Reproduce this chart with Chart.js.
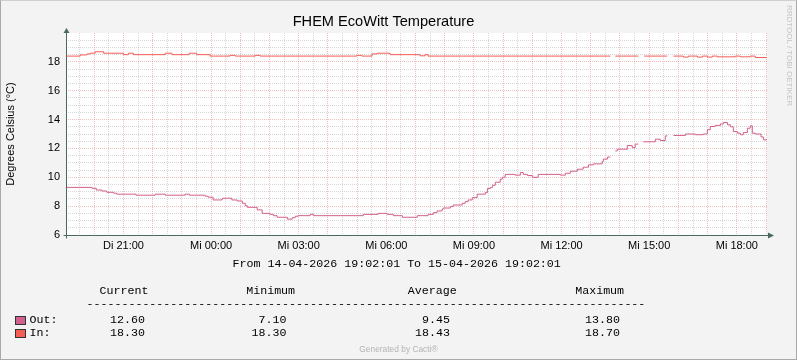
<!DOCTYPE html>
<html>
<head>
<meta charset="utf-8">
<title>FHEM EcoWitt Temperature</title>
<script src="https://cdn.jsdelivr.net/npm/chart.js@4.4.1/dist/chart.umd.min.js"></script>
<style>
  html, body { margin: 0; padding: 0; background: #f3f3f3; }
  #wrap { position: relative; width: 797px; height: 360px; background: #f3f3f3; overflow: hidden; }
  #chart { position: absolute; left: 0; top: 0; }
  #frame { position: absolute; left: 0; top: 0; right: 0; bottom: 0; border: 1px solid #a9a9a9; border-top-color: #d0d0d0; pointer-events: none; }
  .mono { position: absolute; font-family: 'Courier New', 'Liberation Mono', monospace; font-size: 11.65px; line-height: 14px; white-space: pre; color: #000; }
  .num { text-align: right; }
  .box { position: absolute; width: 11px; height: 9px; box-sizing: border-box; border: 1px solid #333; }
  #credit { position: absolute; left: 0; width: 797px; top: 344px; text-align: center; font: 8.4px/10px 'Liberation Sans', Arial, sans-serif; color: #b4b4b4; }
  #mark { position: absolute; left: 784px; top: 5px; writing-mode: vertical-rl; font: 8px/10px 'Liberation Sans', Arial, sans-serif; color: #c4c4c4; }
</style>
</head>
<body>
<div id="wrap">
  <canvas id="chart" width="797" height="360"></canvas>
  <div id="legend"></div>
  <div id="credit">Generated by Cacti®</div>
  <div id="mark">RRDTOOL / TOBI OETIKER</div>
  <div id="frame"></div>
</div>
<script>
// time axis in hours since Di 00:00
const startHour = 19 + 2 / 60;
const endHour = startHour + 24;

const xLabelHours = [21, 24, 27, 30, 33, 36, 39, 42];
const xLabels = ['Di 21:00', 'Mi 00:00', 'Mi 03:00', 'Mi 06:00', 'Mi 09:00', 'Mi 12:00', 'Mi 15:00', 'Mi 18:00'];
const yLabelValues = [6, 8, 10, 12, 14, 16, 18];

// each value holds from its time until the next time, null = no data
const outTimes = [19.03, 19.92, 20.07, 20.26, 20.43, 20.66, 20.77, 21.43, 22.09, 22.43, 23.11, 23.26, 23.80, 23.90,
  24.07, 24.37, 24.41, 24.71, 24.89, 25.07, 25.17, 25.24, 25.58, 25.75, 26.02, 26.13, 26.26, 26.61, 26.78, 26.88,
  26.98, 27.39, 27.50, 29.21, 29.72, 30.03, 30.24, 30.55, 31.06, 31.43, 31.61, 31.74, 31.91, 31.95, 32.19, 32.29,
  32.60, 32.70, 32.80, 32.94, 33.11, 33.39, 33.46, 33.56, 33.63, 33.73, 33.90, 33.97, 34.07, 34.41, 34.59, 34.69,
  34.83, 35.00, 35.20, 35.96, 36.13, 36.30, 36.54, 36.74, 36.92, 37.09, 37.39, 37.43, 37.57, 37.67, 37.84, 37.91,
  38.25, 38.42, 38.52, 38.63, 38.80, 39.21, 39.38, 39.55, 39.62, 39.83, 40.24, 40.58, 40.85, 40.99, 41.09, 41.26,
  41.44, 41.54, 41.68, 41.78, 41.88, 42.02, 42.12, 42.22, 42.36, 42.46, 42.53, 42.63, 42.83, 42.91];
const outValues = [9.30, 9.24, 9.12, 9.05, 8.96, 8.90, 8.83, 8.76, 8.83, 8.76, 8.83, 8.76, 8.69, 8.62,
  8.43, 8.50, 8.55, 8.43, 8.36, 8.20, 8.03, 7.92, 7.74, 7.50, 7.43, 7.34, 7.23, 7.10, 7.20, 7.30,
  7.34, 7.43, 7.34, 7.43, 7.50, 7.43, 7.34, 7.23, 7.34, 7.43, 7.55, 7.67, 7.80, 7.87, 7.97, 8.08,
  8.20, 8.31, 8.43, 8.59, 8.83, 8.94, 9.22, 9.29, 9.45, 9.66, 9.87, 10.00, 10.20, 10.15, 10.33, 10.20,
  10.12, 10.00, 10.20, 10.15, 10.28, 10.42, 10.56, 10.70, 10.86, 10.93, 11.09, 11.26, 11.40, null, 11.83, 11.95,
  12.20, 12.06, 12.30, null, 12.46, 12.64, 12.55, 12.87, null, 12.90, 13.00, 12.95, 13.00, 13.30, 13.52, 13.60,
  13.70, 13.80, 13.64, 13.50, 13.17, 13.06, 12.95, 13.10, 13.40, 13.57, 13.06, 13.00, 12.80, 12.60];

const inTimes = [19.03, 19.52, 19.75, 19.86, 20.03, 20.32, 21.00, 21.17, 21.34, 22.43, 22.66, 23.25, 23.51, 23.97,
  24.65, 24.83, 25.51, 25.68, 28.99, 29.16, 29.51, 29.68, 30.13, 31.16, 31.33, 31.43, 37.67, 37.84, 38.63, 38.83,
  39.62, 39.83, 40.17, 40.34, 40.65, 40.82, 40.99, 41.16, 41.33, 41.95, 42.12, 42.46, 42.63];
const inValues = [18.40, 18.48, 18.55, 18.60, 18.70, 18.60, 18.50, 18.60, 18.50, 18.60, 18.50, 18.60, 18.50, 18.40,
  18.45, 18.40, 18.45, 18.40, 18.45, 18.40, 18.55, 18.60, 18.50, 18.42, 18.50, 18.40, null, 18.40, null, 18.40,
  null, 18.40, 18.33, 18.40, 18.33, 18.40, 18.33, 18.40, 18.35, 18.40, 18.35, 18.40, 18.30];

const seriesNames = ['Out:', 'In:'];
const statHeaders = ['Current', 'Minimum', 'Average', 'Maximum'];
const outStats = [12.60, 7.10, 9.45, 13.80];
const inStats = [18.30, 18.30, 18.43, 18.70];
const periodText = 'From 14-04-2026 19:02:01 To 15-04-2026 19:02:01';

const outColor = '#d2608c';
const inColor = '#f55d55';
const axisColor = '#4a6a60';
const majorGrid = 'rgba(225,110,110,0.45)';
const minorGrid = 'rgba(160,160,160,0.42)';
const sans = "'Liberation Sans', Arial, sans-serif";

function stepPoints(times, values, end) {
    const pts = [];
    for (let i = 0; i < times.length; i++) {
        pts.push({ x: times[i], y: values[i] });
        const last = i === times.length - 1;
        const nextVal = last ? null : values[i + 1];
        if (values[i] !== null && nextVal === null) {
            pts.push({ x: last ? end : times[i + 1], y: values[i] });
        }
    }
    return pts;
}

function halfSteps(from, to) {
    const out = [];
    for (let v = from; v <= to + 1e-9; v += 0.5) out.push({ value: v });
    return out;
}

const rrdFrame = {
    id: 'rrdFrame',
    beforeDraw(chart) {
        const { ctx, chartArea: a } = chart;
        ctx.save();
        ctx.fillStyle = '#ffffff';
        ctx.fillRect(a.left, a.top, a.right - a.left, a.bottom - a.top);
        ctx.restore();
    },
    afterDatasetsDraw(chart) {
        const { ctx, chartArea: a } = chart;
        const x0 = Math.round(a.left) + 0.5;
        const y0 = Math.round(a.bottom) + 0.5;
        ctx.save();
        ctx.strokeStyle = axisColor;
        ctx.fillStyle = axisColor;
        ctx.lineWidth = 1;
        ctx.beginPath();
        ctx.moveTo(x0 - 3, y0);
        ctx.lineTo(a.right + 2, y0);
        ctx.moveTo(x0, y0 + 3);
        ctx.lineTo(x0, a.top - 1);
        ctx.stroke();
        // arrows
        ctx.beginPath();
        ctx.moveTo(a.right + 1, y0 - 3);
        ctx.lineTo(a.right + 7, y0);
        ctx.lineTo(a.right + 1, y0 + 3);
        ctx.closePath();
        ctx.fill();
        ctx.beginPath();
        ctx.moveTo(x0 - 3, a.top);
        ctx.lineTo(x0, a.top - 5);
        ctx.lineTo(x0 + 3, a.top);
        ctx.closePath();
        ctx.fill();
        ctx.restore();
    }
};

const ctx = document.getElementById('chart').getContext('2d');
const chart = new Chart(ctx, {
    type: 'line',
    data: {
        datasets: [{
            label: 'Out',
            data: stepPoints(outTimes, outValues, endHour),
            borderColor: outColor,
            borderWidth: 1,
            stepped: true,
            pointRadius: 0,
            spanGaps: false
        }, {
            label: 'In',
            data: stepPoints(inTimes, inValues, endHour),
            borderColor: inColor,
            borderWidth: 1,
            stepped: true,
            pointRadius: 0,
            spanGaps: false
        }]
    },
    options: {
        responsive: false,
        animation: false,
        events: [],
        layout: { padding: { left: 0, right: 30, top: 0, bottom: 103 } },
        plugins: {
            legend: { display: false },
            tooltip: { enabled: false },
            title: {
                display: true,
                text: 'FHEM EcoWitt Temperature',
                color: '#000',
                font: { family: sans, size: 14.6, weight: 'normal', lineHeight: 1.2 },
                padding: { top: 13.5, bottom: 2 }
            }
        },
        scales: {
            x: {
                type: 'linear',
                min: startHour,
                max: endHour,
                afterBuildTicks: scale => { scale.ticks = halfSteps(19.5, 43); },
                afterFit: scale => { scale.height = 22; },
                ticks: {
                    autoSkip: false,
                    maxRotation: 0,
                    padding: 4,
                    color: '#000',
                    font: { family: sans, size: 11 },
                    callback: v => {
                        const i = xLabelHours.indexOf(v);
                        return i >= 0 ? xLabels[i] : '';
                    }
                },
                grid: {
                    drawTicks: false,
                    lineWidth: 1,
                    color: c => (c.tick && Number.isInteger(c.tick.value)) ? majorGrid : minorGrid
                },
                border: { display: false, dash: [1, 1] }
            },
            y: {
                min: 6,
                max: 20,
                afterBuildTicks: scale => { scale.ticks = halfSteps(6, 19.5); },
                afterFit: scale => { scale.width = 66; },
                ticks: {
                    autoSkip: false,
                    padding: 6,
                    color: '#000',
                    font: { family: sans, size: 11 },
                    callback: v => yLabelValues.includes(v) ? String(v) : ''
                },
                grid: {
                    drawTicks: false,
                    lineWidth: 1,
                    color: c => (c.tick && c.tick.value % 2 === 0) ? majorGrid : minorGrid
                },
                border: { display: false, dash: [1, 1] },
                title: {
                    display: true,
                    text: 'Degrees Celsius (°C)',
                    color: '#000',
                    font: { family: sans, size: 11, lineHeight: 1.2 },
                    padding: { top: 4, bottom: 0 }
                }
            }
        }
    },
    plugins: [rrdFrame]
});

// legend text block underneath the graph
const legend = document.getElementById('legend');
function addText(text, left, top, cls, width) {
    const el = document.createElement('div');
    el.className = 'mono' + (cls ? ' ' + cls : '');
    el.textContent = text;
    el.style.left = left + 'px';
    el.style.top = top + 'px';
    if (width) el.style.width = width + 'px';
    legend.appendChild(el);
    return el;
}

addText(periodText, 232.5, 257.2);

const headerLefts = [99.5, 246.2, 407.8, 575.2];
statHeaders.forEach((h, i) => addText(h, headerLefts[i], 284.3));
addText('-'.repeat(80), 86.5, 296.5);

const valueRights = [145, 286.5, 450, 620];
const rowTops = [312.6, 326];
const rowColors = [outColor, inColor];
[outStats, inStats].forEach((stats, r) => {
    const box = document.createElement('div');
    box.className = 'box';
    box.style.left = '15px';
    box.style.top = (rowTops[r] + 3) + 'px';
    box.style.background = rowColors[r];
    legend.appendChild(box);
    addText(seriesNames[r], 29.5, rowTops[r]);
    stats.forEach((v, i) => addText(v.toFixed(2), valueRights[i] - 60, rowTops[r], 'num', 60));
});
</script>
</body>
</html>
